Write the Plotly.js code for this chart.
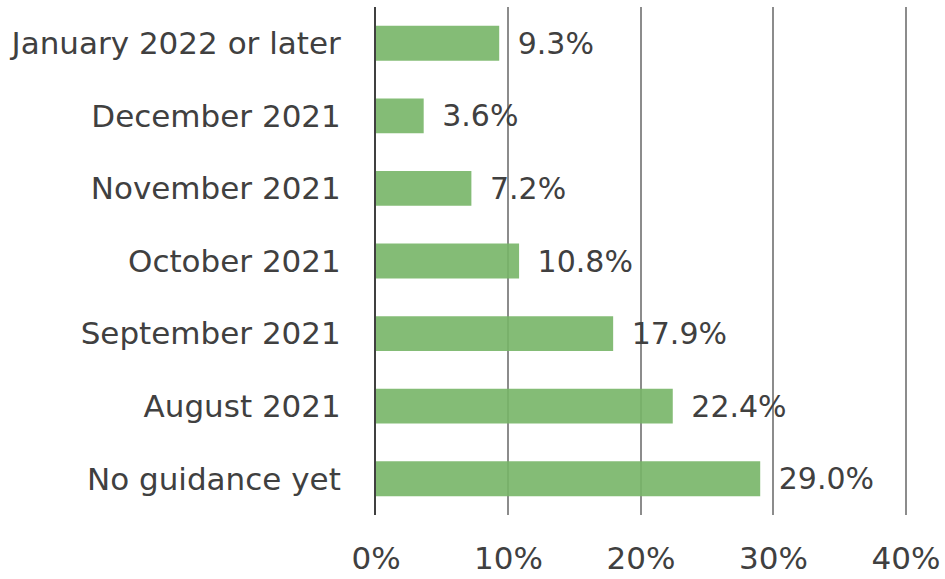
<!DOCTYPE html>
<html>
<head>
<meta charset="utf-8">
<script src="https://cdn.plot.ly/plotly-3.0.1.min.js"></script>
<style>html,body{margin:0;padding:0;background:#fff;}#chart{width:945px;height:579px;}</style>
</head>
<body>
<div id="chart"></div>
<script>
const categories = ["January 2022 or later", "December 2021", "November 2021", "October 2021", "September 2021", "August 2021", "No guidance yet"];
const values = [9.3, 3.6, 7.2, 10.8, 17.9, 22.4, 29.0];
const xTickVals = [0, 10, 20, 30, 40];
const xTickText = ["0%", "10%", "20%", "30%", "40%"];

const FONT = "DejaVu Sans, Verdana, sans-serif";
const TXT = "#404040";

const trace = {
  type: "bar",
  orientation: "h",
  y: categories,
  x: values,
  marker: {color: "rgba(119,181,103,0.9)"},
  texttemplate: "\u00a0\u2009%{x:.1f}%",
  textposition: "outside",
  cliponaxis: false,
  textfont: {family: FONT, size: 31, color: TXT},
  hoverinfo: "none"
};

const layout = {
  width: 945, height: 579,
  margin: {l: 376, r: 38, t: 7, b: 64},
  paper_bgcolor: "#fff", plot_bgcolor: "#fff",
  showlegend: false,
  bargap: 0.52,
  font: {family: FONT, color: TXT, size: 31},
  xaxis: {
    range: [0, 40.08],
    tickvals: xTickVals, ticktext: xTickText,
    showgrid: true, gridcolor: "#8c8c8c", gridwidth: 2,
    zeroline: false, showline: false,
    ticks: "outside", ticklen: 16, tickcolor: "rgba(0,0,0,0)",
    tickfont: {family: FONT, size: 31, color: TXT},
    automargin: false, fixedrange: true
  },
  yaxis: {
    autorange: "reversed",
    showgrid: false, zeroline: false,
    showline: true, linecolor: "#404040", linewidth: 2,
    ticks: "outside", ticklen: 27, tickcolor: "rgba(0,0,0,0)",
    tickfont: {family: FONT, size: 31, color: TXT},
    automargin: false, fixedrange: true
  }
};

Plotly.newPlot("chart", [trace], layout, {displayModeBar: false, staticPlot: true});
</script>
</body>
</html>
